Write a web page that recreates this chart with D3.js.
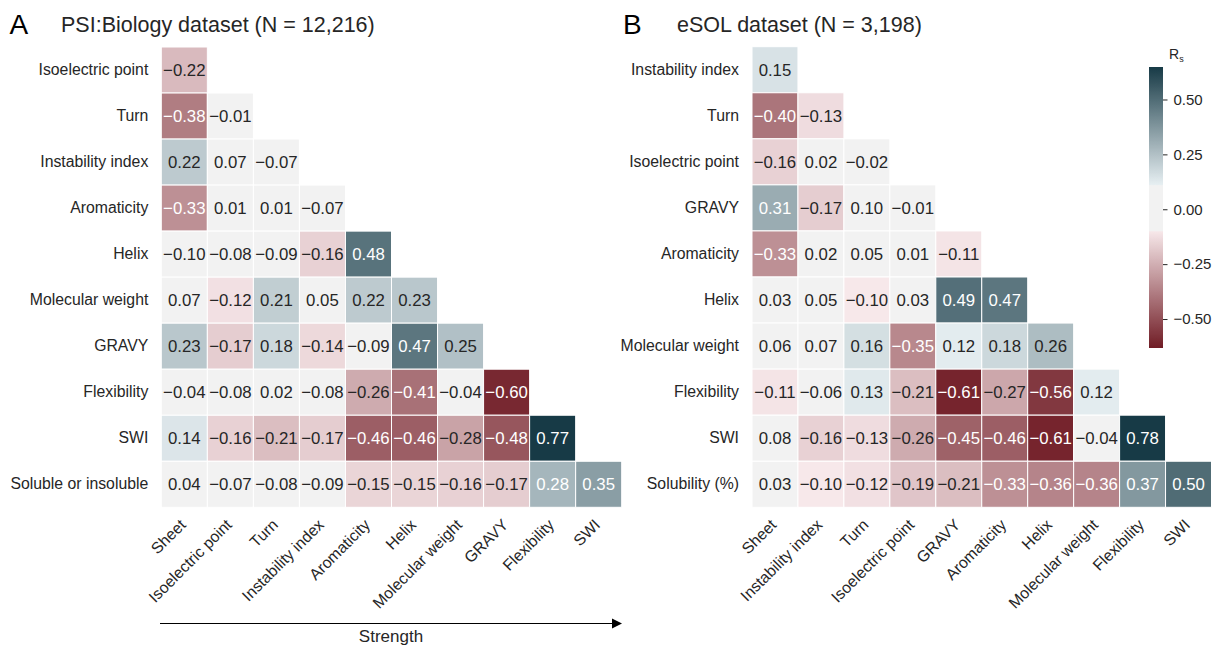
<!DOCTYPE html>
<html><head><meta charset="utf-8">
<script src="https://cdn.jsdelivr.net/npm/d3@7"></script>
<style>
body{margin:0;background:#fff;}
svg{display:block;font-family:"Liberation Sans",Arial,sans-serif;}
</style></head>
<body>
<svg id="chart" width="1216" height="646"></svg>
<script>
// ---------- data ----------
const rowsA = ["Isoelectric point","Turn","Instability index","Aromaticity","Helix","Molecular weight","GRAVY","Flexibility","SWI","Soluble or insoluble"];
const colsA = ["Sheet","Isoelectric point","Turn","Instability index","Aromaticity","Helix","Molecular weight","GRAVY","Flexibility","SWI"];
const valuesA = [
  [-0.22],
  [-0.38,-0.01],
  [0.22,0.07,-0.07],
  [-0.33,0.01,0.01,-0.07],
  [-0.097,-0.08,-0.09,-0.16,0.48],
  [0.07,-0.12,0.21,0.05,0.22,0.23],
  [0.23,-0.17,0.18,-0.14,-0.09,0.47,0.25],
  [-0.04,-0.08,0.02,-0.08,-0.26,-0.41,-0.04,-0.60],
  [0.14,-0.16,-0.21,-0.17,-0.46,-0.46,-0.28,-0.48,0.77],
  [0.04,-0.07,-0.08,-0.09,-0.15,-0.15,-0.16,-0.17,0.28,0.35]
];
const rowsB = ["Instability index","Turn","Isoelectric point","GRAVY","Aromaticity","Helix","Molecular weight","Flexibility","SWI","Solubility (%)"];
const colsB = ["Sheet","Instability index","Turn","Isoelectric point","GRAVY","Aromaticity","Helix","Molecular weight","Flexibility","SWI"];
const valuesB = [
  [0.15],
  [-0.40,-0.13],
  [-0.16,0.02,-0.02],
  [0.31,-0.17,0.10,-0.01],
  [-0.33,0.02,0.05,0.01,-0.11],
  [0.03,0.05,-0.101,0.03,0.49,0.47],
  [0.06,0.07,0.16,-0.35,0.12,0.18,0.26],
  [-0.11,-0.06,0.13,-0.21,-0.61,-0.27,-0.56,0.12],
  [0.08,-0.16,-0.13,-0.26,-0.45,-0.46,-0.61,-0.04,0.78],
  [0.03,-0.101,-0.12,-0.19,-0.21,-0.33,-0.36,-0.36,0.37,0.50]
];
const titleA = "PSI:Biology dataset (N = 12,216)";
const titleB = "eSOL dataset (N = 3,198)";
const colorTicks = [0.50,0.25,0.00,-0.25,-0.50];
const vmin = -0.632, vmax = 0.648;

// ---------- colour ----------
const color = d3.scaleLinear()
  .domain([vmin, -0.1, -0.0999, 0.108, 0.1081, vmax])
  .range(["#701c25","#f7e8ea","#f2f2f2","#f2f2f2","#e8f0f3","#173a46"])
  .interpolate(d3.interpolateRgb)
  .clamp(true);
// annotation colour: light text on the darker cells
const textColor = v => (v < -0.30 || v > 0.27) ? "#ffffff" : "#262626";
const fmt = d3.format(".2f");

const svg = d3.select("#chart");

function panel(rows, cols, values, x0, x1, y0, y1, letter, letterX, title, titleX){
  const x = d3.scaleBand().domain(cols).range([x0, x1]);
  const y = d3.scaleBand().domain(rows).range([y0, y1]);
  const g = svg.append("g");
  const cells = [];
  values.forEach((row, i) => row.forEach((v, j) => cells.push({r: rows[i], c: cols[j], v})));
  const cg = g.selectAll("g.cell").data(cells).join("g").attr("class","cell");
  cg.append("rect")
    .attr("x", d => x(d.c)).attr("y", d => y(d.r))
    .attr("width", x.bandwidth()).attr("height", y.bandwidth())
    .attr("fill", d => color(d.v))
    .attr("stroke", "#fff").attr("stroke-width", 1);
  cg.append("text")
    .attr("x", d => x(d.c) + x.bandwidth()/2)
    .attr("y", d => y(d.r) + y.bandwidth()/2)
    .attr("dy", "0.35em")
    .attr("text-anchor", "middle")
    .attr("font-size", 16.8)
    .attr("fill", d => textColor(d.v))
    .text(d => fmt(d.v));

  const ya = d3.axisLeft(y).tickSize(0).tickPadding(13);
  const yg = g.append("g").attr("transform", `translate(${x0},0)`).call(ya);
  yg.select(".domain").remove();
  yg.selectAll("text").attr("font-size", 15.8).attr("fill", "#262626").attr("font-family", null);

  const xa = d3.axisBottom(x).tickSize(0);
  const xg = g.append("g").attr("transform", `translate(0,${y1})`).call(xa);
  xg.select(".domain").remove();
  xg.selectAll("text")
    .attr("font-size", 15.8).attr("fill", "#262626").attr("font-family", null)
    .attr("text-anchor", "end")
    .attr("x", 0).attr("y", 0).attr("dy", 0)
    .attr("transform", "translate(2.5,18.5) rotate(-45)");

  svg.append("text").attr("x", letterX).attr("y", 34).attr("font-size", 28).attr("fill", "#000").text(letter);
  svg.append("text").attr("x", titleX).attr("y", 32).attr("font-size", 21.5).attr("fill", "#262626").text(title);
}

panel(rowsA, colsA, valuesA, 161.3, 621.7, 47, 507.3, "A", 9.5, titleA, 61);
panel(rowsB, colsB, valuesB, 752, 1211.5, 46.7, 507.3, "B", 623, titleB, 677);

// ---------- colour bar ----------
const cbX = 1149, cbW = 14, cbTop = 67, cbBot = 348;
const cbScale = d3.scaleLinear().domain([vmin, vmax]).range([cbBot, cbTop]);
const defs = svg.append("defs");
const grad = defs.append("linearGradient").attr("id","cbgrad").attr("x1",0).attr("y1",1).attr("x2",0).attr("y2",0);
d3.range(0, 1.0001, 0.002).forEach(t => {
  const v = vmin + t*(vmax - vmin);
  grad.append("stop").attr("offset", t).attr("stop-color", color(v));
});
svg.append("rect").attr("x", cbX).attr("y", cbTop).attr("width", cbW).attr("height", cbBot - cbTop).attr("fill", "url(#cbgrad)");
const cbAxis = d3.axisRight(cbScale).tickValues(colorTicks).tickFormat(fmt).tickSize(4.5).tickPadding(6);
const cbg = svg.append("g").attr("transform", `translate(${cbX + cbW},0)`).call(cbAxis);
cbg.select(".domain").remove();
cbg.selectAll("line").attr("stroke", "#262626");
cbg.selectAll("text").attr("font-size", 15).attr("fill", "#262626").attr("font-family", null);
const rs = svg.append("text").attr("x", 1169).attr("y", 59).attr("font-size", 14).attr("fill", "#262626");
rs.append("tspan").text("R");
rs.append("tspan").attr("font-size", 9).attr("dy", 3).text("s");

// ---------- strength arrow ----------
svg.append("line").attr("x1", 160).attr("x2", 613).attr("y1", 623.5).attr("y2", 623.5).attr("stroke", "#000").attr("stroke-width", 1.2);
svg.append("path").attr("d", "M612,618.5 L622,623.5 L612,628.5 Z").attr("fill", "#000");
svg.append("text").attr("x", 391).attr("y", 642).attr("text-anchor", "middle").attr("font-size", 17).attr("fill", "#262626").text("Strength");
</script>
</body></html>
